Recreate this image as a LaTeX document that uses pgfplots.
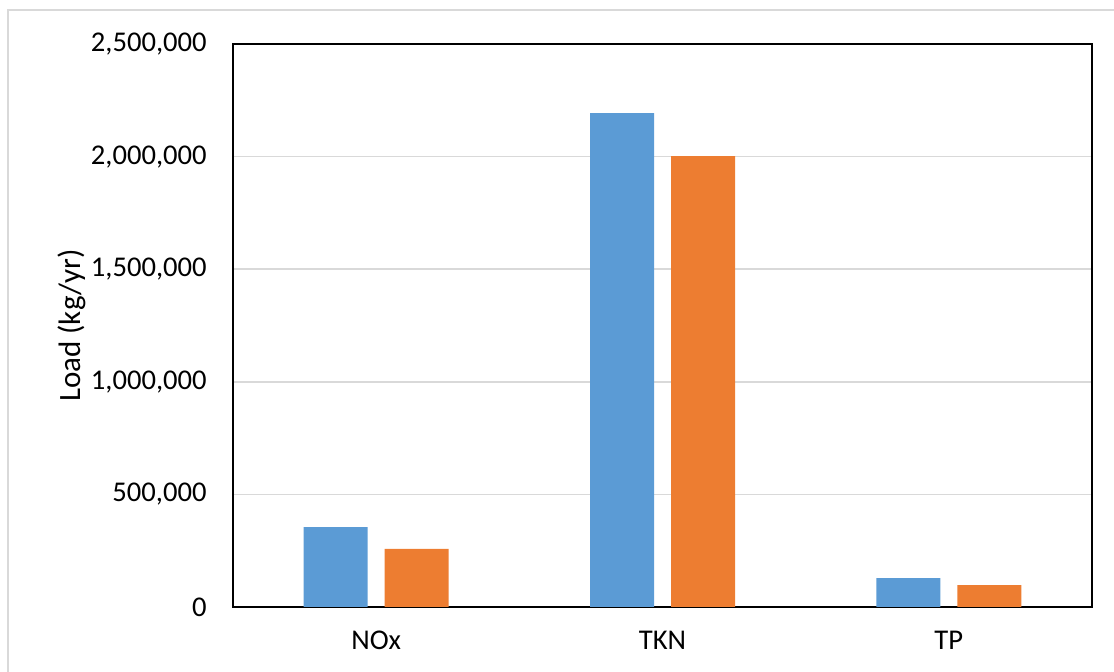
\documentclass[border=0pt]{standalone}
\usepackage{pgfplots}
\pgfplotsset{compat=1.18}
\usepackage{fontspec}
\setmainfont{Carlito}
\definecolor{cblue}{HTML}{5B9BD5}
\definecolor{corange}{HTML}{ED7D31}
\definecolor{cgrid}{HTML}{D9D9D9}
\begin{document}
\begin{tikzpicture}
\useasboundingbox (0pt,0pt) rectangle (557pt,336pt);
\draw[cgrid,line width=0.75pt] (4pt,-10pt) -- (4pt,331pt) -- (565pt,331pt);
\begin{axis}[
  at={(116.5pt,32.5pt)}, anchor=south west,
  scale only axis, width=429.5pt, height=281.5pt,
  ybar=8.5pt, bar width=32pt,
  xmin=-0.5, xmax=2.5, ymin=0, ymax=2500000,
  xtick=data, xticklabels={NOx,TKN,TP},
  ytick={0,500000,1000000,1500000,2000000,2500000},
  scaled y ticks=false,
  yticklabel style={/pgf/number format/fixed,/pgf/number format/1000 sep={,},inner sep=0pt,anchor=east,xshift=-13pt},
  /pgf/number format/assume math mode=true,
  xticklabel style={inner sep=0pt,anchor=north,yshift=-12pt},
  major tick length=0pt,
  ymajorgrids, grid style={cgrid,line width=0.8pt},
  axis line style={black,line width=0.8pt},
  tick label style={font=\fontsize{14.3}{16}\selectfont},
  ylabel={Load (kg/yr)},
  every axis y label/.style={at={(axis description cs:-0.1880,0.5)},rotate=90,anchor=center,font=\fontsize{15.5}{18}\selectfont},
]
\addplot[fill=cblue,draw=none] coordinates {(0,355000) (1,2193000) (2,128500)};
\addplot[fill=corange,draw=none] coordinates {(0,258000) (1,2002000) (2,97500)};
\end{axis}
\end{tikzpicture}
\end{document}
